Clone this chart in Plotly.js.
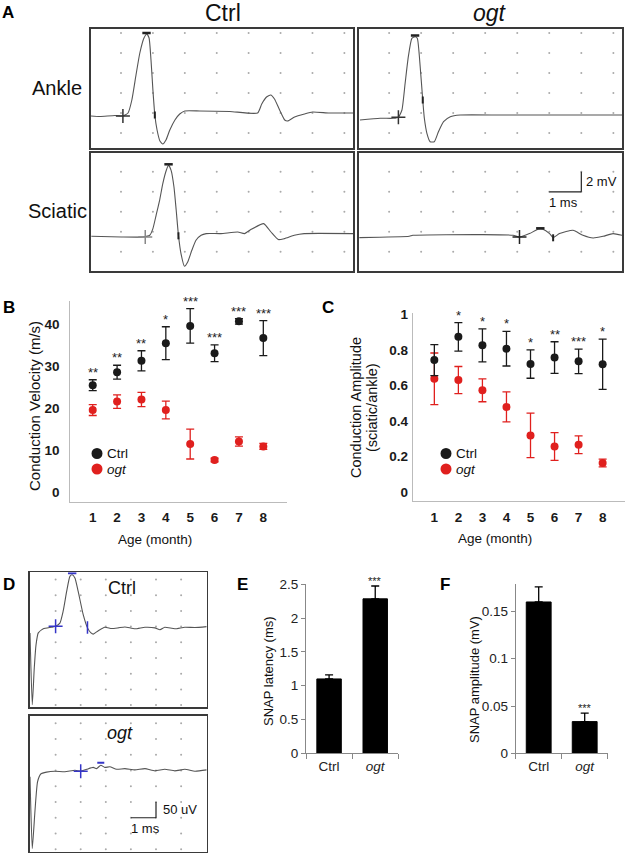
<!DOCTYPE html>
<html><head><meta charset="utf-8">
<script src="https://cdn.plot.ly/plotly-3.0.1.min.js"></script>
<style>html,body{margin:0;padding:0;background:#fff}#chart{width:626px;height:853px}</style>
</head><body><div id="chart"></div>
<script>
// ================= DATA =================
// Panel A – compound muscle action potentials (time ms, amplitude mV)
const ankleCtrlT = [-0.94,-0.66,-0.19,0.06,0.22,0.34,0.47,0.59,0.72,0.81,0.88,0.94,1.0,1.06,1.13,1.22,1.31,1.41,1.53,1.69,1.84,2.0,2.47,3.41,4.28,4.41,4.56,4.69,4.81,4.97,5.13,5.22,5.44,5.75,6.0,6.53,7.27];
const ankleCtrlV = [-0.3,-0.35,-0.25,-0.3,0.0,1.3,3.8,6.0,7.5,7.9,7.5,5.3,2.3,-0.2,-1.7,-2.8,-3.1,-2.7,-1.7,-0.7,-0.1,0.2,0.2,0.15,0.0,0.9,1.6,1.8,1.4,0.3,-0.7,-0.8,-0.4,-0.1,0.1,0.0,0.0];
const ankleOgtT = [-0.91,-0.28,0.13,0.29,0.40,0.50,0.60,0.71,0.81,0.88,0.97,1.05,1.10,1.18,1.28,1.41,1.54,1.70,1.91,2.22,3.5,5.0,7.29];
const ankleOgtV = [-0.7,-0.53,-0.53,-0.43,0.3,2.97,5.63,7.47,7.63,7.47,4.63,1.3,-0.53,-2.03,-2.87,-2.87,-1.87,-0.87,-0.37,-0.2,-0.2,-0.2,-0.2];
const sciaticCtrlT = [-0.93,0.01,0.69,0.90,1.0,1.10,1.21,1.31,1.42,1.49,1.57,1.66,1.73,1.80,1.88,1.99,2.09,2.22,2.35,2.51,2.67,3.13,3.66,3.87,4.07,4.47,4.70,4.93,5.12,5.43,5.74,7.27];
const sciaticCtrlV = [-0.45,-0.52,-0.52,-0.35,0.32,1.65,3.15,4.82,6.15,6.65,6.15,4.48,2.15,-0.35,-2.18,-3.45,-3.02,-1.85,-0.85,-0.35,-0.18,-0.18,-0.02,-0.18,0.22,0.82,-0.02,-0.78,-0.68,-0.35,-0.18,-0.18];
const sciaticOgtT = [-0.93,0.63,0.74,2.93,3.87,4.07,4.38,4.65,4.80,5.01,5.12,5.32,5.74,6.05,6.37,6.68,6.99,7.27];
const sciaticOgtV = [-0.58,-0.45,-0.35,-0.28,-0.35,-0.52,-0.18,0.25,0.25,-0.18,-0.58,-0.18,0.15,-0.35,-0.62,-0.45,-0.18,-0.35];
// cursor marks on the traces [t, v]
const ankleCtrlMarks   = {onset:[0.06,-0.3],  peak:[0.80,8.0],  fall:[1.06,-0.2]};
const ankleOgtMarks    = {onset:[0.29,-0.43], peak:[0.81,7.75], fall:[1.05,1.3]};
const sciaticCtrlMarks = {onset:[0.76,-0.52], peak:[1.49,6.75], fall:[1.80,-0.4]};
const sciaticOgtMarks  = {onset:[4.07,-0.52], peak:[4.72,0.35], fall:[5.12,-0.6]};
// grid of the recording screens
const gridMs = [0,1,2,3,4,5,6,7];
const gridMvTop = [-2,0,2,4,6,8];
const gridMvBottom = [-2,0,2,4,6];

// Panel B – conduction velocity
const months = [1,2,3,4,5,6,7,8];
const cvCtrl    = [25.5,28.6,31.3,35.5,39.6,33.1,40.7,36.7];
const cvCtrlErr = [1.3,1.65,2.4,3.9,4.1,2.0,0.65,4.15];
const cvOgt     = [19.6,21.6,22.1,19.6,11.5,7.7,12.1,10.95];
const cvOgtErr  = [1.3,1.6,1.7,2.1,3.55,0.45,1.1,0.7];
const cvStars   = ['**','**','**','*','***','***','***','***'];

// Panel C – conduction amplitude (sciatic/ankle)
const caCtrl    = [0.743,0.874,0.826,0.807,0.721,0.757,0.736,0.720];
const caCtrlErr = [0.087,0.08,0.093,0.097,0.08,0.089,0.069,0.141];
const caOgt     = [0.638,0.631,0.573,0.48,0.32,0.258,0.267,0.165];
const caOgtErr  = [0.145,0.076,0.064,0.084,0.125,0.078,0.05,0.022];
const caStars   = ['','*','*','*','*','**','***','*'];

// Panel D – SNAP traces (time ms, amplitude uV)
const snapCtrlT = [-1.02,-0.93,-0.85,-0.78,-0.69,-0.49,-0.16,0,0.17,0.30,0.44,0.57,0.66,0.77,0.90,1.10,1.27,1.41,1.50,1.70,1.96,2.23,2.49,2.76,3.16,3.56,3.96,4.16,4.35,4.75,5.15,5.55,6.02];
const snapCtrlV = [-20,-249,-132,-58,-20,-7,-2,1,11,49,112,160,165,155,112,38,-4,-20,-24,-13,-2,-6,-4,-1,-7,-2,-4,-10,-2,-7,-2,-3,0];
const snapOgtT = [-1.02,-0.93,-0.82,-0.72,-0.59,-0.36,-0.03,0.37,0.77,1.0,1.24,1.50,1.63,1.80,1.96,2.16,2.43,2.76,3.16,3.56,3.96,4.35,4.75,5.15,5.55,6.02];
const snapOgtV = [-20,-248,-126,-36,-11,-5,-2,-4,1,-2,4,10,6,17,10,12,4,6,2,6,-1,4,-1,4,-2,2];
const snapCtrlMarks = {onset:[0,1], peak:[0.66,170], fall:[1.27,-3]};
const snapOgtMarks  = {onset:[1.0,-2], peak:[1.80,25]};
const gridMsD = [0,1,2,3,4,5];
const gridUv = [-250,-200,-150,-100,-50,0,50,100,150];

// Panels E, F – SNAP latency and amplitude
const groups = ['Ctrl','ogt'];
const snapLatency = [1.10,2.285];
const snapLatencyErr = [0.06,0.19];
const snapAmplitude = [0.160,0.0335];
const snapAmplitudeErr = [0.016,0.009];
const snapStars = ['','***'];

// ================= BUILD =================
const W = 626, H = 853;
const FONT = 'Liberation Sans, Arial, Helvetica, sans-serif';
const RED = '#e0201e', TRACE = '#555', BLUE = '#3535c8';
const dx = (a,b) => [a/W, b/W];
const dy = (top,bottom) => [1-bottom/H, 1-top/H];

function boxAxis(domain, range, anchor){
  return {domain, range, anchor, showline:true, mirror:true, linecolor:'#3a3a3a', linewidth:1.6,
    showgrid:false, zeroline:false, showticklabels:false, ticks:'', fixedrange:true};
}
function gridDots(xs, ys, xa, ya){
  const x=[], y=[];
  xs.forEach(a => ys.forEach(b => { x.push(a); y.push(b); }));
  return {type:'scatter', mode:'markers', x, y, xaxis:xa, yaxis:ya, marker:{size:2, color:'#aaa'}, hoverinfo:'skip'};
}
function wave(t, v, xa, ya){
  return {type:'scatter', mode:'lines', x:t, y:v, xaxis:xa, yaxis:ya,
    line:{color:TRACE, width:1.1, shape:'spline', smoothing:0.5}, hoverinfo:'skip'};
}
function mark(pt, symbol, size, color, xa, ya, w){
  return {type:'scatter', mode:'markers', x:[pt[0]], y:[pt[1]], xaxis:xa, yaxis:ya,
    marker:{symbol, size, color, line:{color, width:w||1.4}}, hoverinfo:'skip'};
}

const traces = [];
// Panel A
[['x','y',ankleCtrlT,ankleCtrlV,ankleCtrlMarks,gridMvTop,'#333'],
 ['x2','y2',ankleOgtT,ankleOgtV,ankleOgtMarks,gridMvTop,'#333'],
 ['x3','y3',sciaticCtrlT,sciaticCtrlV,sciaticCtrlMarks,gridMvBottom,'#888'],
 ['x4','y4',sciaticOgtT,sciaticOgtV,sciaticOgtMarks,gridMvBottom,'#222']].forEach(([xa,ya,t,v,m,gy,cc]) => {
  traces.push(gridDots(gridMs, gy, xa, ya));
  traces.push(wave(t, v, xa, ya));
  traces.push(mark(m.onset,'cross-thin',10,cc,xa,ya,1.5));
  traces.push(mark(m.peak,'line-ew',6,'#222',xa,ya,2.5));
  traces.push(mark(m.fall,'line-ns',5,'#222',xa,ya,2));
});
// Panel B
traces.push({type:'scatter', mode:'markers', x:months, y:cvCtrl, xaxis:'x5', yaxis:'y5',
  marker:{size:8, color:'#1a1a1a'}, error_y:{type:'data', array:cvCtrlErr, color:'#1a1a1a', thickness:1.3, width:4}});
traces.push({type:'scatter', mode:'markers', x:months, y:cvOgt, xaxis:'x5', yaxis:'y5',
  marker:{size:8, color:RED}, error_y:{type:'data', array:cvOgtErr, color:RED, thickness:1.3, width:4}});
// Panel C
traces.push({type:'scatter', mode:'markers', x:months, y:caOgt, xaxis:'x6', yaxis:'y6',
  marker:{size:8, color:RED}, error_y:{type:'data', array:caOgtErr, color:RED, thickness:1.3, width:4}});
traces.push({type:'scatter', mode:'markers', x:months, y:caCtrl, xaxis:'x6', yaxis:'y6',
  marker:{size:8, color:'#1a1a1a'}, error_y:{type:'data', array:caCtrlErr, color:'#1a1a1a', thickness:1.3, width:4}});
// Panel D
traces.push(gridDots(gridMsD, gridUv, 'x7', 'y7'));
traces.push(wave(snapCtrlT, snapCtrlV, 'x7', 'y7'));
traces.push(mark(snapCtrlMarks.onset,'cross-thin',10,BLUE,'x7','y7',1.5));
traces.push(mark(snapCtrlMarks.peak,'line-ew',6,BLUE,'x7','y7',2));
traces.push(mark(snapCtrlMarks.fall,'line-ns',9,BLUE,'x7','y7',1.5));
traces.push(gridDots(gridMsD, gridUv, 'x8', 'y8'));
traces.push(wave(snapOgtT, snapOgtV, 'x8', 'y8'));
traces.push(mark(snapOgtMarks.onset,'cross-thin',10,BLUE,'x8','y8',1.5));
traces.push(mark(snapOgtMarks.peak,'line-ew',5,BLUE,'x8','y8',2));
// Panels E, F
const groupLabels = groups.map(g => g === 'ogt' ? '<i>ogt</i>' : g);
traces.push({type:'bar', x:groupLabels, y:snapLatency, xaxis:'x9', yaxis:'y9', width:0.53,
  marker:{color:'#000', line:{color:'#000', width:1}},
  error_y:{type:'data', symmetric:false, array:snapLatencyErr, arrayminus:[0,0], color:'#000', thickness:1.3, width:4}});
traces.push({type:'bar', x:groupLabels, y:snapAmplitude, xaxis:'x10', yaxis:'y10', width:0.54,
  marker:{color:'#000', line:{color:'#000', width:1}},
  error_y:{type:'data', symmetric:false, array:snapAmplitudeErr, arrayminus:[0,0], color:'#000', thickness:1.3, width:4}});

// ---- annotations
const ann = [];
function txt(text, px, py, size, extra){
  ann.push(Object.assign({xref:'paper', yref:'paper', x:px/W, y:1-py/H, text, showarrow:false,
    xanchor:'center', yanchor:'middle', font:{family:FONT, size, color:'#111'}}, extra||{}));
}
function letter(l, px, py){ txt(l, px, py, 17, {font:{family:FONT, size:17, color:'#000', weight:'bold'}}); }
letter('A', 8, 12); letter('B', 9, 307); letter('C', 328, 307);
letter('D', 9, 584); letter('E', 242, 584); letter('F', 445, 584);
txt('Ctrl', 223, 13, 23); txt('<i>ogt</i>', 490, 13, 23);
txt('Ankle', 57, 88, 20); txt('Sciatic', 57, 211, 20);
// scale bar labels
ann.push({xref:'x4', yref:'y4', x:6.08, y:5.0, text:'2 mV', showarrow:false, xanchor:'left', yanchor:'middle', font:{family:FONT, size:13, color:'#111'}});
ann.push({xref:'x4', yref:'y4', x:5.45, y:4.0, text:'1 ms', showarrow:false, xanchor:'center', yanchor:'top', yshift:-1, font:{family:FONT, size:13, color:'#111'}});
ann.push({xref:'x8', yref:'y8', x:4.2, y:-124, text:'50 uV', showarrow:false, xanchor:'left', yanchor:'middle', font:{family:FONT, size:13, color:'#111'}});
ann.push({xref:'x8', yref:'y8', x:3.6, y:-150, text:'1 ms', showarrow:false, xanchor:'center', yanchor:'top', yshift:-1, font:{family:FONT, size:13, color:'#111'}});
txt('Ctrl', 121.5, 588, 18); txt('<i>ogt</i>', 120, 733, 18);
// axis titles
txt('Conduction Velocity (m/s)', 35, 406, 15, {textangle:-90});
txt('Age (month)', 155, 539, 13.5);
txt('Conduction Amplitude', 356, 407, 14.5, {textangle:-90});
txt('(sciatic/ankle)', 372, 407, 14.5, {textangle:-90});
txt('Age (month)', 495, 538, 13.5);
txt('SNAP latency (ms)', 268, 671, 13, {textangle:-90});
txt('SNAP amplitude (mV)', 474, 680, 13, {textangle:-90});
// legends of B and C
const shapes = [];
function legendDot(px, py, color){
  shapes.push({type:'circle', xref:'paper', yref:'paper', xsizemode:'pixel', ysizemode:'pixel',
    xanchor:px/W, yanchor:1-py/H, x0:-5.5, x1:5.5, y0:-5.5, y1:5.5, fillcolor:color, line:{width:0}});
}
legendDot(97, 453.5, '#1a1a1a'); legendDot(97, 469, RED);
legendDot(446, 453.5, '#1a1a1a'); legendDot(446, 469, RED);
txt('Ctrl', 104.5, 453.5, 13.5, {xanchor:'left'}); txt('<i>ogt</i>', 104.5, 469, 13.5, {xanchor:'left'});
txt('Ctrl', 453.5, 453.5, 13.5, {xanchor:'left'}); txt('<i>ogt</i>', 453.5, 469, 13.5, {xanchor:'left'});
// significance stars
months.forEach((m,i) => {
  ann.push({xref:'x5', yref:'y5', x:m, y:cvCtrl[i]+cvCtrlErr[i], text:cvStars[i], showarrow:false,
    yanchor:'bottom', yshift:-2, font:{family:FONT, size:13, color:'#222'}});
  if(caStars[i]) ann.push({xref:'x6', yref:'y6', x:m, y:caCtrl[i]+caCtrlErr[i], text:caStars[i], showarrow:false,
    yanchor:'bottom', yshift:-2, font:{family:FONT, size:13, color:'#222'}});
});
groupLabels.forEach((g,i) => {
  if(!snapStars[i]) return;
  ann.push({xref:'x9', yref:'y9', x:g, y:snapLatency[i]+snapLatencyErr[i], text:snapStars[i], showarrow:false,
    yanchor:'bottom', yshift:-3, font:{family:FONT, size:11, color:'#222'}});
  ann.push({xref:'x10', yref:'y10', x:g, y:snapAmplitude[i]+snapAmplitudeErr[i], text:snapStars[i], showarrow:false,
    yanchor:'bottom', yshift:-3, font:{family:FONT, size:11, color:'#222'}});
});
// scale bars
shapes.push({type:'line', xref:'x4', yref:'y4', x0:5, x1:6, y0:4, y1:4, line:{color:'#222', width:1.2}});
shapes.push({type:'line', xref:'x4', yref:'y4', x0:6, x1:6, y0:4, y1:6, line:{color:'#222', width:1.2}});
shapes.push({type:'line', xref:'x8', yref:'y8', x0:3, x1:4, y0:-150, y1:-150, line:{color:'#222', width:1.2}});
shapes.push({type:'line', xref:'x8', yref:'y8', x0:4, x1:4, y0:-150, y1:-100, line:{color:'#222', width:1.2}});

const aRange = [-0.94, 7.27];
const ptFont = {family:FONT, size:13.5, color:'#1a1a1a', weight:'bold'};
const xlFont = {family:FONT, size:13.5, color:'#222'};
const layout = {
  width:W, height:H, margin:{l:0,r:0,t:0,b:0}, showlegend:false,
  paper_bgcolor:'#fff', plot_bgcolor:'rgba(0,0,0,0)', font:{family:FONT},
  xaxis: boxAxis(dx(91,353), aRange, 'y'),   yaxis: boxAxis(dy(29,148), [-3.5,8.4], 'x'),
  xaxis2: boxAxis(dx(359,622), aRange, 'y2'), yaxis2: boxAxis(dy(29,148), [-3.5,8.4], 'x2'),
  xaxis3: boxAxis(dx(91,353), aRange, 'y3'),  yaxis3: boxAxis(dy(153,271), [-3.92,7.88], 'x3'),
  xaxis4: boxAxis(dx(359,622), aRange, 'y4'), yaxis4: boxAxis(dy(153,271), [-3.92,7.88], 'x4'),
  xaxis5: {domain:dx(70.3,286.7), anchor:'y5', range:[0.08,8.96], showline:true, linecolor:'#bbb', linewidth:1,
    tickvals:months, ticks:'', showgrid:false, zeroline:false, tickfont:ptFont, ticklabelstandoff:3},
  yaxis5: {domain:dy(300.7,501.7), anchor:'x5', range:[-2.2,45.6], showline:true, linecolor:'#bbb', linewidth:1,
    tickvals:[0,10,20,30,40], ticks:'', showgrid:false, zeroline:false, tickfont:ptFont, ticklabelstandoff:7},
  xaxis6: {domain:dx(412.7,625), anchor:'y6', range:[0.10,8.93], showline:true, linecolor:'#bbb', linewidth:1,
    tickvals:months, ticks:'', showgrid:false, zeroline:false, tickfont:ptFont, ticklabelstandoff:4},
  yaxis6: {domain:dy(313.3,500.7), anchor:'x6', range:[-0.047,1.006], showline:true, linecolor:'#bbb', linewidth:1,
    tickvals:[0,0.2,0.4,0.6,0.8,1], ticks:'', showgrid:false, zeroline:false, tickfont:ptFont, ticklabelstandoff:1},
  xaxis7: boxAxis(dx(30,206.7), [-1.02,6.02], 'y7'), yaxis7: boxAxis(dy(572.3,707.3), [-257,173], 'x7'),
  xaxis8: boxAxis(dx(30,206.7), [-1.02,6.02], 'y8'), yaxis8: boxAxis(dy(715.5,851.7), [-258,175], 'x8'),
  xaxis9: {domain:dx(306,398.3), anchor:'y9', type:'category', showline:true, linecolor:'#888', linewidth:1,
    ticks:'outside', tickson:'boundaries', ticklen:5, tickcolor:'#888', showgrid:false, zeroline:false, tickfont:xlFont},
  yaxis9: {domain:dy(584.3,753.3), anchor:'x9', range:[0,2.5], showline:true, linecolor:'#888', linewidth:1,
    ticks:'outside', ticklen:4, tickcolor:'#888', tickvals:[0,0.5,1,1.5,2,2.5], showgrid:false, zeroline:false, tickfont:xlFont},
  xaxis10: {domain:dx(515.7,607.7), anchor:'y10', type:'category', showline:true, linecolor:'#888', linewidth:1,
    ticks:'outside', tickson:'boundaries', ticklen:5, tickcolor:'#888', showgrid:false, zeroline:false, tickfont:xlFont},
  yaxis10: {domain:dy(584,753.3), anchor:'x10', range:[0,0.179], showline:true, linecolor:'#888', linewidth:1,
    ticks:'outside', ticklen:4, tickcolor:'#888', tickvals:[0,0.05,0.1,0.15], showgrid:false, zeroline:false, tickfont:xlFont},
  annotations: ann, shapes: shapes
};
Plotly.newPlot('chart', traces, layout, {staticPlot:true, displayModeBar:false});
</script></body></html>
